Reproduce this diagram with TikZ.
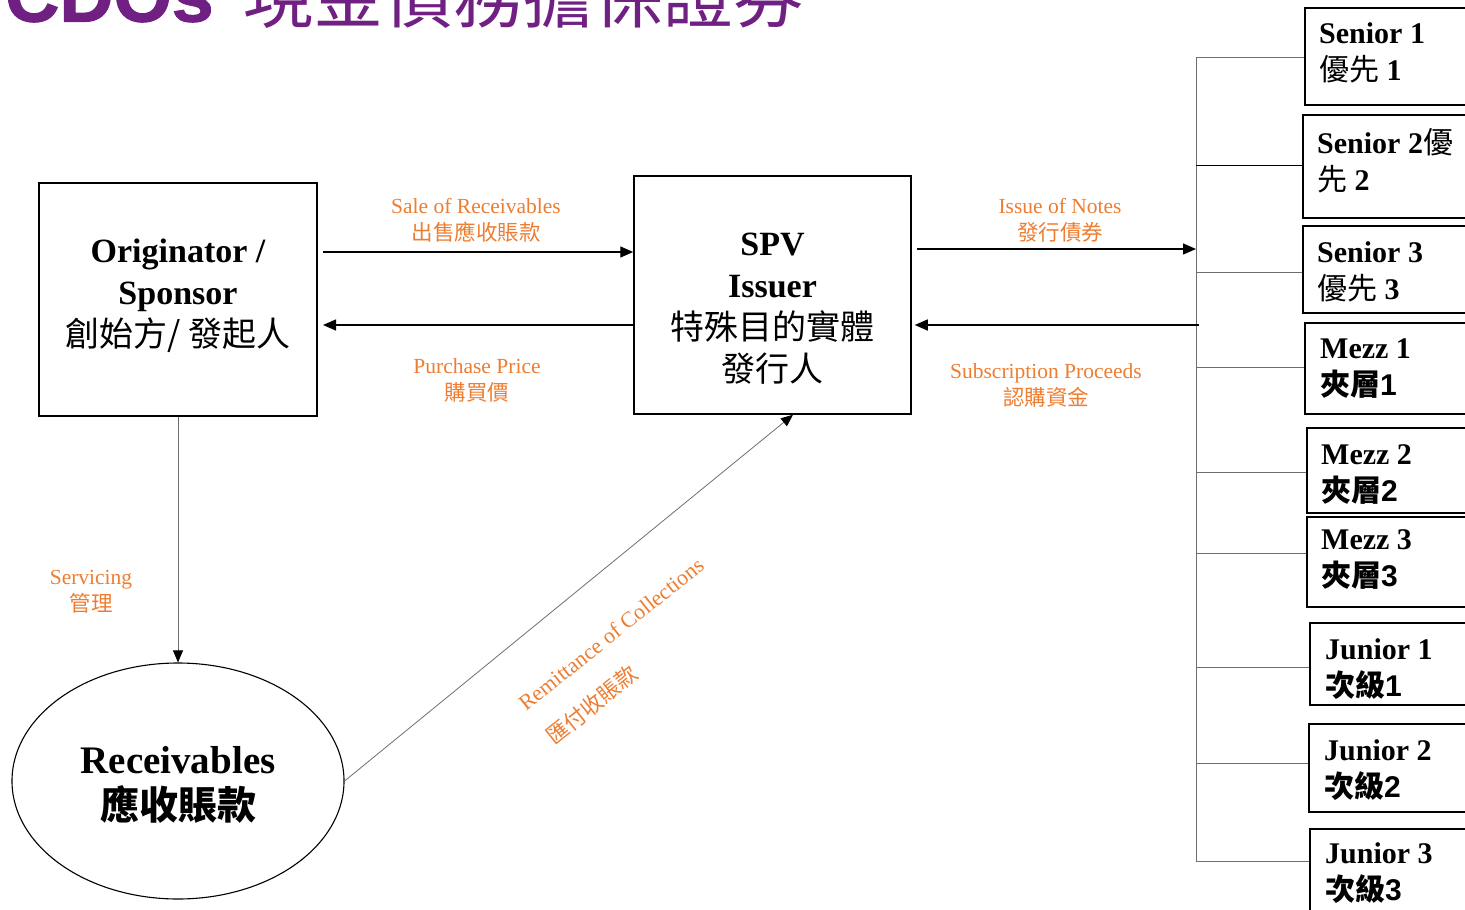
\documentclass[tikz,border=0pt]{standalone}
\usepackage{fontspec}
\setmainfont{Liberation Serif}
\newfontfamily\cjk{Noto Sans CJK TC}
\newfontfamily\arial{Liberation Sans}
\newfontfamily\titlesans[BoldFeatures={FakeBold=1.5}]{Liberation Sans}
\usetikzlibrary{arrows.meta,shapes.geometric,calc}
\definecolor{lab}{RGB}{237,125,49}
\definecolor{ttl}{RGB}{112,32,130}
\definecolor{thinc}{RGB}{110,110,110}
\tikzset{
  tip/.style={-{Triangle[length=13pt,width=11pt]}},
  mainarrow/.style={tip, line width=1.4pt, black},
  thinarrow/.style={-{Triangle[length=12pt,width=10pt,color=black]}, line width=0.8pt, thinc},
  tie/.style={line width=0.8pt, thinc},
  bigbox/.style={draw, line width=1.5pt, rectangle, inner sep=0pt},
  btxt/.style={align=center, inner sep=0pt, font=\bfseries\fontsize{34}{42}\selectfont},
  lbl/.style={align=center, inner sep=0pt, text=lab, font=\fontsize{21.5}{27}\selectfont},
  trbox/.style={draw, line width=1.5pt, rectangle, anchor=north west, minimum width=185pt, inner sep=0pt},
  trtext/.style={anchor=west, inner sep=0pt, align=left, font=\bfseries\fontsize{30}{37}\selectfont}
}
\begin{document}
\begin{tikzpicture}[x=1pt,y=-1pt]
\useasboundingbox (0,0) rectangle (1465,910);
\clip (0,0) rectangle (1465,910);

% title (cut at the top)
\node[anchor=base west, inner sep=0pt, text=ttl, font=\titlesans\bfseries\fontsize{75}{75}\selectfont] (ttlA) at (5,21.5) {CDOs};
\node[anchor=base west, inner sep=0pt, text=ttl, font=\cjk\fontsize{70}{70}\selectfont] (ttlB) at (243,22) {現金債務擔保證券};

% main boxes
\node[bigbox, minimum width=278pt, minimum height=233pt] (orig) at (178,299.5) {};
\node[btxt] (origT) at (178,295.5) {Originator /\\Sponsor\\{\cjk\mdseries 創始方/ 發起人}};

\node[bigbox, minimum width=277pt, minimum height=238pt] (spv) at (772.5,295) {};
\node[btxt] (spvT) at (772.5,309) {SPV\\Issuer\\{\cjk\mdseries 特殊目的實體}\\{\cjk\mdseries 發行人}};

\node[draw, line width=1.1pt, ellipse, minimum width=332pt, minimum height=236pt, inner sep=0pt] (rec) at (178,781) {};
\node[align=center, inner sep=0pt, font=\bfseries\fontsize{39}{46}\selectfont] (recT) at (178,785) {Receivables\\{\cjk 應收賬款}};

% tranche boxes
\node[trbox, minimum height=97pt] (s1) at (1304,7) {};
\node[trbox, minimum height=103pt] (s2) at (1302,114) {};
\node[trbox, minimum height=87pt] (s3) at (1302,225) {};
\node[trbox, minimum height=91pt] (m1) at (1304,322) {};
\node[trbox, minimum height=85pt] (m2) at (1306,427) {};
\node[trbox, minimum height=90pt] (m3) at (1306,516) {};
\node[trbox, minimum height=82pt] (j1) at (1309,622) {};
\node[trbox, minimum height=88pt] (j2) at (1308,723) {};
\node[trbox, minimum height=88pt] (j3) at (1309,828) {};

\node[trtext] (s1T) at (1319,53) {Senior 1\\{\cjk\mdseries 優先} 1};
\node[trtext] (s2T) at (1317,161) {Senior 2{\cjk\mdseries 優}\\{\cjk\mdseries 先} 2};
\node[trtext] (s3T) at (1317,272) {Senior 3\\{\cjk\mdseries 優先} 3};
\node[trtext] (m1T) at (1320,369) {Mezz 1\\{\cjk 夾層}{\arial 1}};
\node[trtext] (m2T) at (1321,475) {Mezz 2\\{\cjk 夾層}{\arial 2}};
\node[trtext] (m3T) at (1321,560) {Mezz 3\\{\cjk 夾層}{\arial 3}};
\node[trtext] (j1T) at (1325,669) {Junior 1\\{\cjk 次級}{\arial 1}};
\node[trtext] (j2T) at (1324,770) {Junior 2\\{\cjk 次級}{\arial 2}};
\node[trtext] (j3T) at (1325,873.5) {Junior 3\\{\cjk 次級}{\arial 3}};

% bus
\coordinate (busT) at (1196,57);
\coordinate (busB) at (1196,862);
\draw[tie] (busT) -- (busB);
\draw[tie] (busT) -- (busT -| s1.west);
\coordinate (ts2) at (1196,165);
\draw[line width=0.9pt, black] (ts2) -- (ts2 -| s2.west);
\foreach \n/\yy in {s3/272, m1/367, m2/472, m3/553, j1/667, j2/763, j3/861} {
  \coordinate (t\n) at (1196,\yy);
  \draw[tie] (t\n) -- (t\n -| \n.west);
}

% horizontal flows
\coordinate (saleS) at (323,252);
\draw[mainarrow] (saleS) -- (saleS -| spv.west);
\coordinate (purE) at (323,325);
\draw[mainarrow] (spv.west |- purE) -- (purE);
\coordinate (issE) at (1196,249);
\draw[mainarrow, shorten <=5pt] (spv.east |- issE) -- (issE);
\coordinate (subS) at (1199,325);
\draw[mainarrow, shorten >=3pt] (subS) -- (subS -| spv.east);

% servicing and remittance
\draw[thinarrow] (orig.south) -- (rec.north);
\draw[thinarrow] (rec.east) -- ($(spv.south)+(20.5,0)$);

% labels
\node[lbl] (lSale) at (476,220) {Sale of Receivables\\{\cjk 出售應收賬款}};
\node[lbl] (lPur) at (477,380) {Purchase Price\\{\cjk 購買價}};
\node[lbl] (lIss) at (1060,220) {Issue of Notes\\{\cjk 發行債券}};
\node[lbl] (lSub) at (1046,385) {Subscription Proceeds\\{\cjk 認購資金}};
\node[lbl] (lSer) at (91,592) {Servicing\\{\cjk 管理}};
\node[lbl, rotate=38.6, font=\fontsize{22}{27}\selectfont] (lRemA) at (611,634) {Remittance of Collections};
\node[lbl, rotate=38.6, font=\cjk\fontsize{22}{27}\selectfont] (lRemB) at (592,705) {匯付收賬款};
\end{tikzpicture}
\end{document}
